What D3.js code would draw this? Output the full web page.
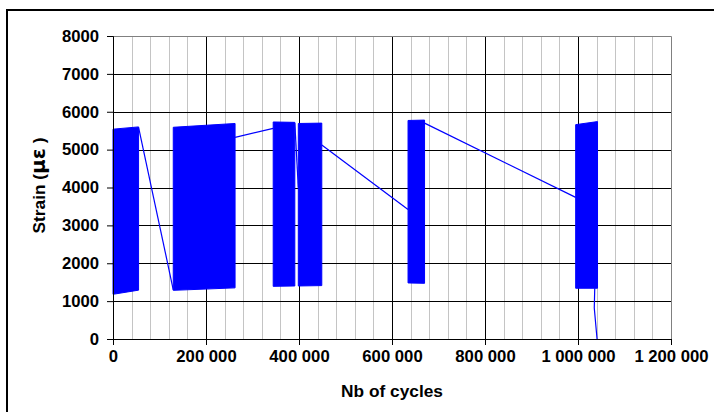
<!DOCTYPE html>
<html>
<head>
    <meta charset="utf-8">
    <script src="https://cdn.jsdelivr.net/npm/d3@7"></script>
    <title>Strain vs cycles</title>
    <style>
        body { margin: 0; background: white; }
        .label {
            font-family: 'Liberation Sans', Arial, sans-serif;
            font-weight: bold;
            font-size: 16.7px;
            fill: #000;
        }
        .title {
            font-family: 'Liberation Sans', Arial, sans-serif;
            font-weight: bold;
            font-size: 17.3px;
            fill: #000;
        }
    </style>
</head>
<body>
    <div id="chart"></div>
    <script>
        // cyclic blocks (envelope of the strain signal)
        var blockStart = [0, 129600, 344500, 398500, 634500, 995000];
        var blockEnd = [55000, 262500, 391000, 449000, 670000, 1042000];
        var blockTopStart = [5540, 5590, 5730, 5690, 5770, 5660];
        var blockTopEnd = [5600, 5690, 5720, 5700, 5780, 5740];
        var blockBottomStart = [1180, 1285, 1390, 1400, 1480, 1340];
        var blockBottomEnd = [1290, 1350, 1400, 1410, 1470, 1340];

        // single readings between the blocks
        var linkCycles = [[55000, 129600], [262500, 344500], [391000, 398500], [449000, 634500], [670000, 995000], [1036000, 1035000, 1041000]];
        var linkStrain = [[5590, 1300], [5325, 5560], [5700, 4000], [5120, 3420], [5700, 3740], [1340, 820, 0]];

        var xTicks = [0, 200000, 400000, 600000, 800000, 1000000, 1200000];
        var yTicks = [0, 1000, 2000, 3000, 4000, 5000, 6000, 7000, 8000];

        var margin = { top: 36, right: 43, bottom: 73, left: 113 },
            width = 714 - margin.left - margin.right,
            height = 412 - margin.top - margin.bottom;

        var root = d3.select("#chart").append("svg")
            .attr("width", 714)
            .attr("height", 412);

        // outer frame (only left and top edges are in view)
        root.append("rect")
            .attr("x", 7).attr("y", 10)
            .attr("width", 800).attr("height", 500)
            .attr("fill", "none")
            .attr("stroke", "#000")
            .attr("stroke-width", 2);

        var svg = root.append("g")
            .attr("transform", "translate(" + margin.left + "," + margin.top + ")");

        var xScale = d3.scaleLinear().domain([0, 1200000]).range([0, width]);
        var yScale = d3.scaleLinear().domain([0, 8000]).range([height, 0]);

        var crisp = function (v) { return Math.round(v) + 0.5; };

        // minor vertical grid every 40 000
        var minor = d3.range(40000, 1200000, 40000).filter(function (d) { return d % 200000 !== 0; });
        svg.selectAll(".minor")
            .data(minor)
            .enter().append("line")
            .attr("class", "minor")
            .attr("x1", function (d) { return crisp(xScale(d)); })
            .attr("x2", function (d) { return crisp(xScale(d)); })
            .attr("y1", 0).attr("y2", height)
            .attr("stroke", "#c4c4c4");

        // major grid
        svg.selectAll(".vmajor")
            .data(xTicks.slice(1, -1))
            .enter().append("line")
            .attr("x1", function (d) { return crisp(xScale(d)); })
            .attr("x2", function (d) { return crisp(xScale(d)); })
            .attr("y1", 0).attr("y2", height)
            .attr("stroke", "#000");
        svg.selectAll(".hmajor")
            .data(yTicks.slice(1, -1))
            .enter().append("line")
            .attr("y1", function (d) { return crisp(yScale(d)); })
            .attr("y2", function (d) { return crisp(yScale(d)); })
            .attr("x1", 0).attr("x2", width)
            .attr("stroke", "#000");

        // plot border top / right
        svg.append("path")
            .attr("d", "M0," + crisp(0) + "H" + crisp(width) + "V" + height)
            .attr("fill", "none")
            .attr("stroke", "#808080");

        // blocks as filled envelopes
        var blocks = blockStart.map(function (s, i) {
            return [
                { c: s, lo: blockBottomStart[i], hi: blockTopStart[i] },
                { c: blockEnd[i], lo: blockBottomEnd[i], hi: blockTopEnd[i] }
            ];
        });

        var area = d3.area()
            .x(function (d) { return xScale(d.c); })
            .y0(function (d) { return yScale(d.lo); })
            .y1(function (d) { return yScale(d.hi); });

        svg.selectAll(".block")
            .data(blocks)
            .enter().append("path")
            .attr("class", "block")
            .attr("d", area)
            .attr("fill", "#0000ff")
            .attr("stroke", "#0000ff")
            .attr("stroke-width", 1);

        // connecting lines
        var links = linkCycles.map(function (cs, i) {
            return cs.map(function (c, j) { return { c: c, v: linkStrain[i][j] }; });
        });

        var line = d3.line()
            .x(function (d) { return xScale(d.c); })
            .y(function (d) { return yScale(d.v); });

        svg.selectAll(".link")
            .data(links)
            .enter().append("path")
            .attr("class", "link")
            .attr("d", line)
            .attr("fill", "none")
            .attr("stroke", "#0000ff")
            .attr("stroke-width", 1.2);

        //x
        var xAxis = d3.axisBottom(xScale)
            .tickValues(xTicks)
            .tickSize(6)
            .tickPadding(5)
            .tickFormat(function (d) { return d3.format(",")(d).replace(/,/g, " "); });
        svg.append("g")
            .attr("class", "x axis")
            .attr("transform", "translate(0," + height + ")")
            .call(xAxis)
            .call(function (g) { g.select(".domain").attr("stroke", "#000"); });

        //y
        var yAxis = d3.axisLeft(yScale)
            .tickValues(yTicks)
            .tickSize(6)
            .tickPadding(8)
            .tickFormat(d3.format("d"));
        svg.append("g")
            .attr("class", "y axis")
            .call(yAxis);

        svg.selectAll(".tick text").attr("class", "label");

        //x label
        svg.append("text")
            .attr("class", "title")
            .attr("x", width / 2)
            .attr("y", height + 58)
            .style("text-anchor", "middle")
            .text("Nb of cycles");

        //y label
        var yLabel = svg.append("text")
            .attr("class", "title")
            .attr("transform", "rotate(-90)")
            .attr("x", -height / 2 + 2)
            .attr("y", -margin.left + 45)
            .style("text-anchor", "middle");
        yLabel.append("tspan").text("Strain (");
        yLabel.append("tspan").style("font-size", "20px").style("font-family", "'DejaVu Sans', sans-serif").text("με");
        yLabel.append("tspan").text(" )");
    </script>
</body>
</html>
